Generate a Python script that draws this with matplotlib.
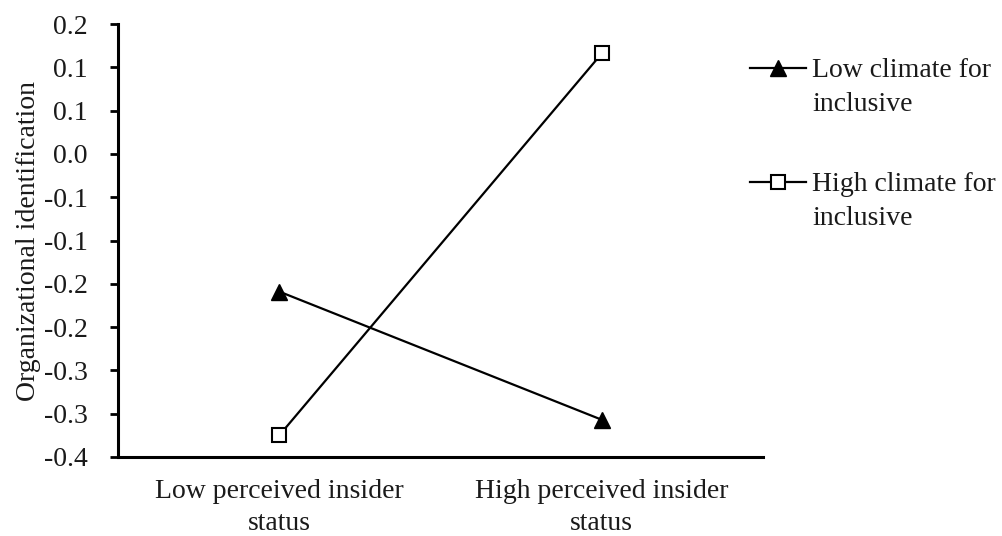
import matplotlib
matplotlib.use("Agg")
import matplotlib.pyplot as plt
from matplotlib.lines import Line2D

# categories and series values
categories = ["Low perceived insider\nstatus", "High perceived insider\nstatus"]
low_climate = [-0.159, -0.307]
high_climate = [-0.325, 0.116]
series_labels = ["Low climate for\ninclusive", "High climate for\ninclusive"]

# y ticks (Excel-style rounding to one decimal)
y_ticks = [0.15, 0.10, 0.05, 0.00, -0.05, -0.10, -0.15, -0.20, -0.25, -0.30, -0.35]
y_tick_labels = ["0.2", "0.1", "0.1", "0.0", "-0.1", "-0.1", "-0.2", "-0.2", "-0.3", "-0.3", "-0.4"]

plt.rcParams["font.family"] = ["Liberation Serif", "DejaVu Serif"]
TXT = "#1a1a1a"
FS = 20

fig = plt.figure(figsize=(10.02, 5.36), dpi=100)
ax = fig.add_axes([0.1178, 0.1474, 0.6437, 0.8078])

styles = [
    dict(marker="^", markersize=12, markerfacecolor="black", markeredgecolor="black"),
    dict(marker="s", markersize=10.5, markerfacecolor="white", markeredgecolor="black",
         markeredgewidth=1.5),
]

x = list(range(len(categories)))
for vals, st in zip([low_climate, high_climate], styles):
    ax.plot(x, vals, color="black", linewidth=1.6, clip_on=False, zorder=3, **st)

ax.set_xlim(-0.5, 1.5)
ax.set_ylim(-0.35, 0.15)
ax.set_xticks(x)
ax.set_xticklabels(categories, fontsize=FS, linespacing=1.38)
ax.set_yticks(y_ticks)
ax.set_yticklabels(y_tick_labels, fontsize=FS)
ax.tick_params(axis="x", length=0, pad=16, labelcolor=TXT)
ax.tick_params(axis="y", length=6, width=2, direction="out", pad=16,
               color="black", labelcolor=TXT)

ax.set_ylabel("Organizational identification", fontsize=FS, labelpad=2, color=TXT)

for s in ["top", "right"]:
    ax.spines[s].set_visible(False)
for s in ["left", "bottom"]:
    ax.spines[s].set_linewidth(2.2)

# legend drawn by hand so the handle sits on the first text line
leg_rows = [68, 182]  # pixel rows (from top) of first text lines
line_gap = 35         # pixel distance between the two text lines
W, H = fig.get_size_inches() * fig.dpi
for row, label, st in zip(leg_rows, series_labels, styles):
    yf = 1 - row / H
    fig.add_artist(Line2D([750 / W, 806 / W], [yf, yf], color="black",
                          linewidth=1.6, transform=fig.transFigure))
    fig.add_artist(Line2D([778 / W], [yf], color="black", linestyle="none",
                          transform=fig.transFigure, **st))
    # baseline alignment refers to the last line of a multi-line text
    fig.text(812 / W, 1 - (row + line_gap + 8) / H, label, fontsize=FS, color=TXT,
             ha="left", va="baseline", linespacing=1.45)

fig.savefig("out.png", dpi=100, facecolor="white")
